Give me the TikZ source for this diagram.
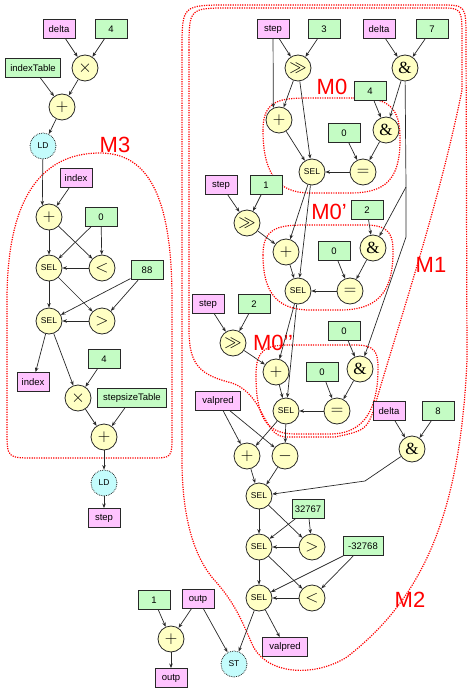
\documentclass[tikz,border=0pt]{standalone}
\usepackage{fontspec}
\setmainfont{Liberation Sans}
\newfontfamily\serifop{Liberation Serif}
\usetikzlibrary{arrows.meta}
\definecolor{cpink}{RGB}{255,196,255}
\definecolor{cgreen}{RGB}{196,252,196}
\definecolor{cyel}{RGB}{255,255,196}
\definecolor{ccyan}{RGB}{196,252,252}
\definecolor{cline}{RGB}{40,40,40}
\tikzset{
 vbox/.style={draw=cline, line width=0.9pt, minimum width=32pt, minimum height=19pt, inner sep=1pt, font=\fontsize{9.5}{10}\selectfont},
 pinkbox/.style={vbox, fill=cpink},
 greenbox/.style={vbox, fill=cgreen},
 op/.style={circle, draw=cline, line width=0.8pt, fill=cyel, minimum size=26pt, inner sep=0pt, font=\fontsize{17}{17}\selectfont},
 selop/.style={op, font=\fontsize{8.5}{9}\selectfont},
 mem/.style={circle, draw=cline, densely dotted, line width=0.8pt, fill=ccyan, minimum size=26pt, inner sep=0pt, font=\fontsize{8.5}{9}\selectfont},
 arr/.style={-{Stealth[length=4.5pt,width=3.5pt]}, line width=0.7pt, draw=cline},
 region/.style={draw=red, line width=1.2pt, dash pattern=on 1.2pt off 1.2pt},
 rlabel/.style={text=red, font=\fontsize{22}{22}\selectfont, inner sep=0pt},
}
\newcommand{\amp}{{\serifop\&}}
\begin{document}
\begin{tikzpicture}[x=1pt,y=-1pt]
\useasboundingbox (0,0) rectangle (467,690);
% ---------- regions ----------
\draw[region] (7,420) -- (7,300) .. controls (7,200) and (40,153) .. (100,153) .. controls (150,153) and (172,200) .. (172,300) -- (172,435) .. controls (172,458) .. (150,458) -- (35,458) .. controls (7,458) .. (7,430) -- cycle;
\draw[region] (263,130) .. controls (263,100) and (280,98) .. (310,98) -- (360,98) .. controls (395,98) and (400,115) .. (400,140) .. controls (400,180) and (385,193) .. (350,193) -- (310,193) .. controls (275,193) and (263,170) .. (263,130) -- cycle;
\draw[region] (263,255) .. controls (263,228) and (278,225) .. (305,225) -- (365,225) .. controls (390,225) and (393,235) .. (393,252) .. controls (393,295) and (375,310) .. (340,310) -- (310,310) .. controls (275,310) and (263,290) .. (263,255) -- cycle;
\draw[region] (256,375) .. controls (256,350) and (265,345) .. (290,345) -- (355,345) .. controls (375,345) and (378,352) .. (378,368) .. controls (378,415) and (360,434) .. (330,434) -- (295,434) .. controls (265,434) and (256,415) .. (256,375) -- cycle;
% M1
\draw[region] (189,50) .. controls (189,8) .. (230,8) -- (440,8) .. controls (462,8) .. (462,40) -- (462,90) .. controls (440,200) and (400,320) .. (378,395) .. controls (368,430) .. (335,437) -- (285,437) .. controls (262,435) and (265,395) .. (232,383) .. controls (200,375) and (189,365) .. (189,330) -- cycle;
% M2
\draw[region] (182,50) .. controls (182,5) .. (230,5) -- (440,5) .. controls (466,5) .. (466,40) -- (467,360) .. controls (460,520) and (420,600) .. (347,657) .. controls (315,677) and (270,675) .. (254,648) .. controls (245,630) and (240,610) .. (217,583) .. controls (195,560) and (182,520) .. (182,460) -- cycle;
\node[rlabel] (lm3) at (115,145) {M3};
\node[rlabel] (lm0) at (332,87) {M0};
\node[rlabel] (lm0p) at (329,212) {M0’};
\node[rlabel] (lm0pp) at (273,343) {M0’’};
\node[rlabel] (lm1) at (431,265) {M1};
\node[rlabel] (lm2) at (410,600) {M2};
% ---------- left ----------
\node[pinkbox] (l_delta) at (59,29) {delta};
\node[greenbox] (l_4) at (111,29) {4};
\node[op] (l_mul) at (85,68) {$\times$};
\node[greenbox, minimum width=55pt] (l_itab) at (33,68) {indexTable};
\node[op] (l_add) at (62,107) {$+$};
\node[mem] (l_ld) at (43,146) {LD};
\node[pinkbox] (m3_index) at (76,178) {index};
\node[op] (m3_add) at (49,217) {$+$};
\node[greenbox] (m3_0) at (101,217) {0};
\node[selop] (m3_sel1) at (49,268) {SEL};
\node[op] (m3_lt) at (102,268) {$<$};
\node[greenbox] (m3_88) at (147,270) {88};
\node[selop] (m3_sel2) at (49,321) {SEL};
\node[op] (m3_gt) at (102,321) {$>$};
\node[greenbox] (m3_4) at (104,359) {4};
\node[pinkbox] (m3_idx2) at (33,382) {index};
\node[op] (m3_mul) at (78,398) {$\times$};
\node[greenbox, minimum width=69pt] (m3_stab) at (132,398) {stepsizeTable};
\node[op] (m3_add2) at (104,437) {$+$};
\node[mem] (l_ld2) at (104,483) {LD};
\node[pinkbox] (l_step) at (104,518) {step};
% ---------- bottom ----------
\node[greenbox] (b_1) at (154,600) {1};
\node[pinkbox] (b_outp) at (198,599) {outp};
\node[op] (b_add) at (171,639) {$+$};
\node[pinkbox] (b_outp2) at (171,678) {outp};
\node[mem] (b_st) at (234,664) {ST};
\node[pinkbox, minimum width=45pt] (b_valpred) at (285,647) {valpred};
% ---------- right top ----------
\node[pinkbox] (r_step) at (273,29) {step};
\node[greenbox] (r_3) at (324,29) {3};
\node[pinkbox] (r_delta) at (379,29) {delta};
\node[greenbox] (r_7) at (432,29) {7};
\node[op] (r_shr) at (298,68) {$\gg$};
\node[op] (r_and) at (405,68) {\amp};
\node[greenbox] (m0_4) at (370,91) {4};
\node[op] (m0_add) at (279,120) {$+$};
\node[op] (m0_and) at (386,130) {\amp};
\node[greenbox] (m0_0) at (344,133) {0};
\node[selop] (m0_sel) at (312,172) {SEL};
\node[op] (m0_eq) at (363,172) {$=$};
% M0'
\node[pinkbox] (m1_step) at (221,185) {step};
\node[greenbox] (m1_1) at (266,185) {1};
\node[op] (m1_shr) at (247,223) {$\gg$};
\node[greenbox] (m1_2) at (367,210) {2};
\node[op] (m1_add) at (286,252) {$+$};
\node[op] (m1_and) at (373,248) {\amp};
\node[greenbox] (m1_0) at (334,251) {0};
\node[selop] (m1_sel) at (298,291) {SEL};
\node[op] (m1_eq) at (350,291) {$=$};
% M0''
\node[pinkbox] (m2_step) at (208,304) {step};
\node[greenbox] (m2_2) at (254,304) {2};
\node[op] (m2_shr) at (233,343) {$\gg$};
\node[greenbox] (m2_0a) at (344,331) {0};
\node[op] (m2_and) at (360,369) {\amp};
\node[op] (m2_add) at (276,372) {$+$};
\node[greenbox] (m2_0b) at (322,372) {0};
\node[selop] (m2_sel) at (286,411) {SEL};
\node[op] (m2_eq) at (337,411) {$=$};
% clamp
\node[pinkbox, minimum width=45pt] (c_valpred) at (218,401) {valpred};
\node[pinkbox] (c_delta) at (389,411) {delta};
\node[greenbox] (c_8) at (438,411) {8};
\node[op] (c_add) at (247,456) {$+$};
\node[op] (c_sub) at (285,456) {$-$};
\node[op] (c_and) at (412,449) {\amp};
\node[selop] (c_sel1) at (259,496) {SEL};
\node[greenbox] (c_32767) at (308,509) {32767};
\node[selop] (c_sel2) at (259,547) {SEL};
\node[op] (c_gt) at (312,547) {$>$};
\node[greenbox, minimum width=40pt] (c_m32768) at (363,546) {-32768};
\node[selop] (c_sel3) at (259,598) {SEL};
\node[op] (c_lt) at (312,598) {$<$};
\coordinate (j1) at (406,187);
\coordinate (j2) at (406,237);
\coordinate (j3) at (365,481);
% ---------- edges left ----------
\draw[arr] (l_delta) -- (l_mul);
\draw[arr] (l_4) -- (l_mul);
\draw[arr] (l_itab) -- (l_add);
\draw[arr] (l_mul) -- (l_add);
\draw[arr] (l_add) -- (l_ld);
\draw[arr] (l_ld) -- (m3_add.120);
\draw[arr] (m3_index) -- (m3_add);
\draw[arr] (m3_add) -- (m3_sel1);
\draw[arr] (m3_add) -- (m3_lt);
\draw[arr] (m3_0) -- (m3_sel1);
\draw[arr] (m3_0) -- (m3_lt);
\draw[arr] (m3_lt) -- (m3_sel1);
\draw[arr] (m3_sel1) -- (m3_sel2);
\draw[arr] (m3_sel1) -- (m3_gt);
\draw[arr] (m3_88) -- (m3_sel2);
\draw[arr] (m3_88) -- (m3_gt);
\draw[arr] (m3_gt) -- (m3_sel2);
\draw[arr] (m3_sel2) -- (m3_idx2);
\draw[arr] (m3_sel2) -- (m3_mul);
\draw[arr] (m3_4) -- (m3_mul);
\draw[arr] (m3_mul) -- (m3_add2);
\draw[arr] (m3_stab) -- (m3_add2);
\draw[arr] (m3_add2) -- (l_ld2);
\draw[arr] (l_ld2) -- (l_step);
% ---------- edges right ----------
\draw[arr] (r_step) -- (r_shr);
\draw[arr] (r_3) -- (r_shr);
\draw[arr] (r_delta) -- (r_and);
\draw[arr] (r_7) -- (r_and);
\draw[arr] (r_step) -- (m0_add.115);
\draw[arr] (r_shr) -- (m0_add);
\draw[arr] (r_shr) -- (m0_sel);
\draw[arr] (r_and) -- (m0_and);
\draw[arr] (r_and) -- (j1) -- (m1_and);
\draw[arr] (j1) -- (j2) -- (m2_and);
\draw[arr] (m0_4) -- (m0_and);
\draw[arr] (m0_and) -- (m0_eq);
\draw[arr] (m0_0) -- (m0_eq);
\draw[arr] (m0_eq) -- (m0_sel);
\draw[arr] (m0_add) -- (m0_sel);
\draw[arr] (m0_sel) -- (m1_add);
\draw[arr] (m0_sel) -- (m1_sel);
\draw[arr] (m1_step) -- (m1_shr);
\draw[arr] (m1_1) -- (m1_shr);
\draw[arr] (m1_shr) -- (m1_add);
\draw[arr] (m1_2) -- (m1_and);
\draw[arr] (m1_and) -- (m1_eq);
\draw[arr] (m1_0) -- (m1_eq);
\draw[arr] (m1_eq) -- (m1_sel);
\draw[arr] (m1_add) -- (m1_sel);
\draw[arr] (m1_sel) -- (m2_add);
\draw[arr] (m1_sel) -- (m2_sel);
\draw[arr] (m2_step) -- (m2_shr);
\draw[arr] (m2_2) -- (m2_shr);
\draw[arr] (m2_shr) -- (m2_add);
\draw[arr] (m2_0a) -- (m2_and);
\draw[arr] (m2_and) -- (m2_eq);
\draw[arr] (m2_0b) -- (m2_eq);
\draw[arr] (m2_eq) -- (m2_sel);
\draw[arr] (m2_add) -- (m2_sel);
\draw[arr] (m2_sel) -- (c_add);
\draw[arr] (m2_sel) -- (c_sub);
\draw[arr] (c_valpred) -- (c_add);
\draw[arr] (c_valpred) -- (c_sub);
\draw[arr] (c_add) -- (c_sel1);
\draw[arr] (c_sub) -- (c_sel1);
\draw[arr] (c_delta) -- (c_and);
\draw[arr] (c_8) -- (c_and);
\draw[arr] (c_and) -- (j3) -- (c_sel1);
\draw[arr] (c_sel1) -- (c_sel2);
\draw[arr] (c_sel1) -- (c_gt);
\draw[arr] (c_32767) -- (c_sel2);
\draw[arr] (c_32767) -- (c_gt);
\draw[arr] (c_gt) -- (c_sel2);
\draw[arr] (c_sel2) -- (c_sel3);
\draw[arr] (c_sel2) -- (c_lt);
\draw[arr] (c_m32768) -- (c_sel3);
\draw[arr] (c_m32768) -- (c_lt);
\draw[arr] (c_lt) -- (c_sel3);
\draw[arr] (c_sel3) -- (b_st);
\draw[arr] (c_sel3) -- (b_valpred);
\draw[arr] (b_1) -- (b_add);
\draw[arr] (b_outp) -- (b_add);
\draw[arr] (b_add) -- (b_outp2);
\draw[arr] (b_outp) -- (b_st);
\end{tikzpicture}
\end{document}
